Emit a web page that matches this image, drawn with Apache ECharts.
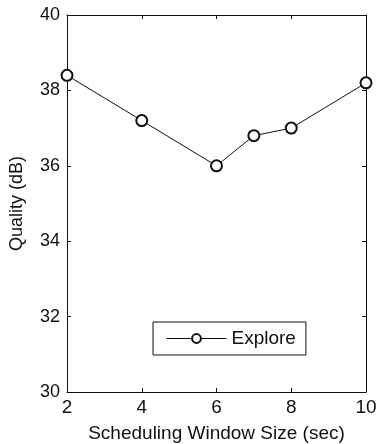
<!DOCTYPE html>
<html>
<head>
<meta charset="utf-8">
<style>
  html, body { margin: 0; padding: 0; background: #fff; }
  #chart { width: 376px; height: 444px; }
</style>
<script src="https://cdn.jsdelivr.net/npm/echarts@6/dist/echarts.min.js"></script>
</head>
<body>
<div id="chart"></div>
<script>
// Scheduling window size (sec) vs. quality (dB)
const windowSizes = [2, 4, 6, 7, 8, 10];
const exploreQuality = [38.4, 37.2, 36.0, 36.8, 37.0, 38.2];
const xTicks = [2, 4, 6, 8, 10];
const yTicks = [30, 32, 34, 36, 38, 40];

const FONT = 'Arial, "Liberation Sans", sans-serif';
const INK = '#111';

const chart = echarts.init(document.getElementById('chart'), null, { renderer: 'canvas' });

// Shared look for the boxed frame: inward ticks, no grid lines
const frameAxis = {
  axisLine: { show: true, onZero: false, lineStyle: { color: INK, width: 1 } },
  axisTick: { show: true, inside: true, length: 4, lineStyle: { color: INK } },
  splitLine: { show: false }
};

chart.setOption({
  backgroundColor: '#fff',
  animation: false,
  grid: { left: 67, right: 10, top: 15, bottom: 52, containLabel: false, outerBoundsMode: 'none' },
  legend: {
    left: 153,
    top: 322,
    orient: 'vertical',
    padding: [7, 10, 7, 13],
    borderColor: INK,
    borderWidth: 1,
    itemWidth: 60,
    itemHeight: 11,
    lineStyle: { width: 1 },
    textStyle: { fontFamily: FONT, fontSize: 19, color: INK },
    data: ['Explore']
  },
  xAxis: [
    Object.assign({
      type: 'value',
      min: xTicks[0],
      max: xTicks[xTicks.length - 1],
      interval: 2,
      name: 'Scheduling Window Size (sec)',
      nameLocation: 'middle',
      nameGap: 32,
      nameTextStyle: { fontFamily: FONT, fontSize: 19, color: INK },
      axisLabel: { fontFamily: FONT, fontSize: 19, color: INK, margin: 6 }
    }, frameAxis),
    Object.assign({
      type: 'value',
      position: 'top',
      min: xTicks[0],
      max: xTicks[xTicks.length - 1],
      interval: 2,
      axisLabel: { show: false }
    }, frameAxis)
  ],
  yAxis: [
    Object.assign({
      type: 'value',
      min: yTicks[0],
      max: yTicks[yTicks.length - 1],
      interval: 2,
      name: 'Quality (dB)',
      nameLocation: 'middle',
      nameGap: 41,
      nameTextStyle: { fontFamily: FONT, fontSize: 18, color: INK },
      axisLabel: { fontFamily: FONT, fontSize: 18, color: INK, margin: 7 }
    }, frameAxis),
    Object.assign({
      type: 'value',
      position: 'right',
      min: yTicks[0],
      max: yTicks[yTicks.length - 1],
      interval: 2,
      axisLabel: { show: false }
    }, frameAxis)
  ],
  series: [{
    name: 'Explore',
    type: 'line',
    data: windowSizes.map((x, i) => [x, exploreQuality[i]]),
    symbol: 'emptyCircle',
    symbolSize: 11,
    lineStyle: { color: INK, width: 1 },
    itemStyle: { color: INK, borderColor: INK, borderWidth: 1 },
    clip: false
  }]
});
</script>
</body>
</html>
